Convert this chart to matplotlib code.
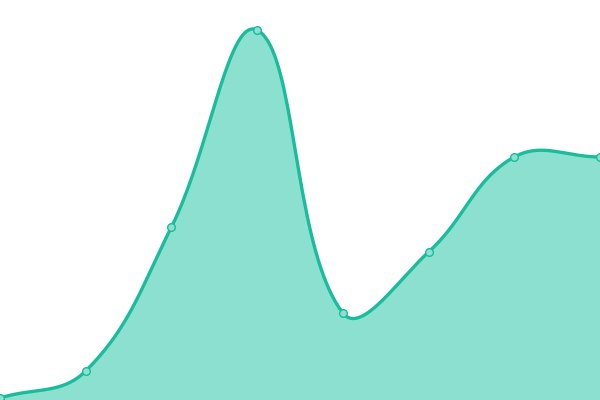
import matplotlib.pyplot as plt
import numpy as np

labels = ['A', 'B', 'C', 'D', 'E', 'F', 'G', 'H']
values = [2, 29, 173, 370, 87, 148, 243, 243]

LINE = '#1abc9c'
FILL = '#8ce0cf'
TENSION = 0.4


def spline_path(xs, ys, t):
    # chart.js style bezier control points
    n = len(xs)
    pts = np.column_stack([xs, ys]).astype(float)
    cps = []
    for i in range(n):
        first = pts[max(i - 1, 0)]
        mid = pts[i]
        after = pts[min(i + 1, n - 1)]
        d01 = np.hypot(*(mid - first))
        d12 = np.hypot(*(after - mid))
        tot = d01 + d12
        s01 = d01 / tot if tot else 0
        s12 = d12 / tot if tot else 0
        prev = mid - t * s01 * (after - first)
        nxt = mid + t * s12 * (after - first)
        cps.append((prev, nxt))
    out = [pts[0]]
    u = np.linspace(0, 1, 40)[1:, None]
    for i in range(n - 1):
        p0 = pts[i]
        c1 = cps[i][1]
        c2 = cps[i + 1][0]
        p3 = pts[i + 1]
        seg = ((1 - u) ** 3) * p0 + 3 * ((1 - u) ** 2) * u * c1 + 3 * (1 - u) * u ** 2 * c2 + u ** 3 * p3
        out.extend(seg)
    out = np.array(out)
    return out[:, 0], out[:, 1]


fig = plt.figure(figsize=(6, 4), dpi=100)
ax = fig.add_axes([0, 0, 1, 1])

x = np.arange(len(values)) * 600 / (len(values) - 1)
sx, sy = spline_path(x, values, TENSION)

ax.fill_between(sx, sy, 0, color=FILL, linewidth=0)
ax.plot(sx, sy, color=LINE, linewidth=2.4, solid_capstyle='round')
ax.plot(x, values, 'o', markersize=5.5, markerfacecolor='#8ce0cf',
        markeredgecolor=LINE, markeredgewidth=1, clip_on=False)

ax.set_xlim(0, 600)
ax.set_ylim(0, 400)
ax.axis('off')

fig.savefig('out.png', dpi=100)
